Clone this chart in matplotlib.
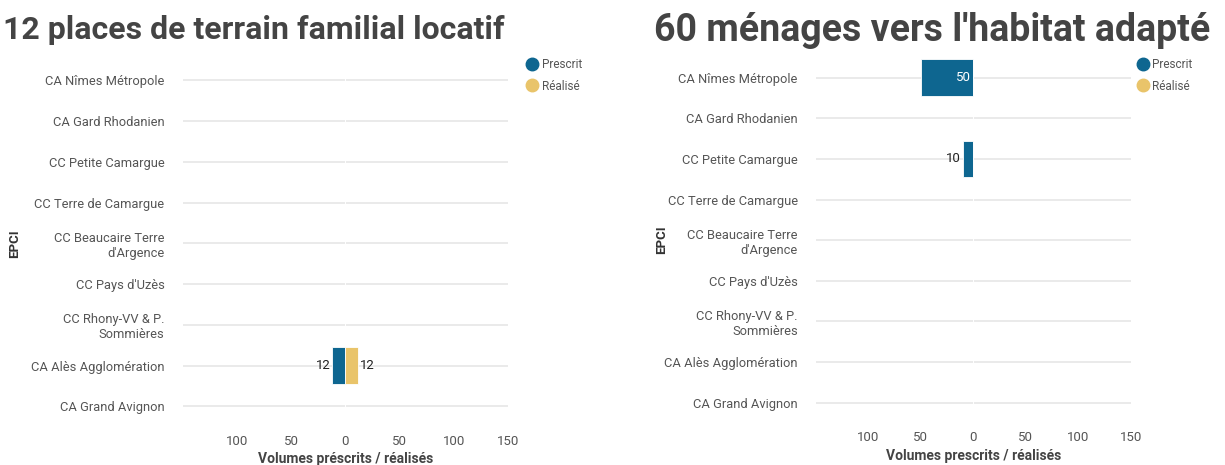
import matplotlib
matplotlib.use("Agg")
import matplotlib.pyplot as plt
from matplotlib.ticker import FixedLocator, FuncFormatter
from matplotlib.lines import Line2D

plt.rcParams["font.family"] = ["Roboto", "DejaVu Sans"]

# data
epci = ["CA Nîmes Métropole", "CA Gard Rhodanien", "CC Petite Camargue",
        "CC Terre de Camargue", "CC Beaucaire Terre\nd'Argence", "CC Pays d'Uzès",
        "CC Rhony-VV & P.\nSommières", "CA Alès Agglomération", "CA Grand Avignon"]
terrain_prescrit = [0, 0, 0, 0, 0, 0, 0, 12, 0]
terrain_realise = [0, 0, 0, 0, 0, 0, 0, 12, 0]
habitat_prescrit = [50, 0, 10, 0, 0, 0, 0, 0, 0]
habitat_realise = [0, 0, 0, 0, 0, 0, 0, 0, 0]
titles = ["12 places de terrain familial locatif", "60 ménages vers l'habitat adapté"]
xlabels = ["Volumes préscrits / réalisés", "Volumes prescrits / réalisés"]
xticks = [-100, -50, 0, 50, 100, 150]

BLUE = "#0e6690"
GOLD = "#e9c46a"
GRID = "#e6e6e6"
TXT = "#555555"

fig = plt.figure(figsize=(12.25, 4.65), dpi=100)
axes = [fig.add_axes([0.149, 0.082, 0.266, 0.789]),
        fig.add_axes([0.666, 0.090, 0.257, 0.787])]
series = [(terrain_prescrit, terrain_realise), (habitat_prescrit, habitat_realise)]
title_x = [0.207, 0.761]
title_size = [23, 27]
leg_x = [0.426, 0.924]
ylab_x = [-0.495, -0.47]

for k, ax in enumerate(axes):
    presc, real = series[k]
    y = list(range(len(epci)))
    ax.set_ylim(len(epci) - 0.5, -0.5)
    ax.set_xlim(-150, 150)
    for yi in y:
        ax.axhline(yi, color=GRID, lw=1.2, zorder=0)
    ax.barh(y, [-v for v in presc], height=0.9, color=BLUE, edgecolor="white", lw=0.6, zorder=2)
    ax.barh(y, real, height=0.9, color=GOLD, edgecolor="white", lw=0.6, zorder=2)
    for yi, v in zip(y, presc):
        if v == 0:
            continue
        if v >= 30:
            ax.text(-2, yi, str(v), ha="right", va="center", color="white", fontsize=9.5, zorder=3)
        else:
            ax.text(-v - 1.5, yi, str(v), ha="right", va="center", color="#222222", fontsize=9.5, zorder=3)
    for yi, v in zip(y, real):
        if v == 0:
            continue
        ax.text(v + 1.5, yi, str(v), ha="left", va="center", color="#222222", fontsize=9.5, zorder=3)

    ax.set_yticks(y)
    ax.set_yticklabels(epci, fontsize=9.3, color=TXT, ha="right", linespacing=1.2)
    ax.xaxis.set_major_locator(FixedLocator(xticks))
    ax.xaxis.set_major_formatter(FuncFormatter(lambda v, p: f"{abs(int(v))}"))
    ax.tick_params(axis="both", length=0, colors=TXT)
    ax.tick_params(axis="y", pad=13)
    ax.tick_params(axis="x", pad=6, labelsize=9.5)
    for s in ax.spines.values():
        s.set_visible(False)
    ax.set_ylabel("EPCI", fontsize=9.5, fontweight="bold", color="#333333")
    ax.yaxis.set_label_coords(ylab_x[k], 0.5)
    ax.set_xlabel(xlabels[k], fontsize=10, fontweight="bold", color="#444444", labelpad=3)

    fig.text(title_x[k], 0.935, titles[k], ha="center", va="center", fontsize=title_size[k],
             fontweight="bold", color="#444444")
    handles = [Line2D([], [], marker="o", ls="", ms=9, color=BLUE, label="Prescrit"),
               Line2D([], [], marker="o", ls="", ms=9, color=GOLD, label="Réalisé")]
    fig.legend(handles=handles, loc="upper left", bbox_to_anchor=(leg_x[k], 0.886),
               frameon=False, fontsize=8.5, labelcolor=TXT, handletextpad=0.3,
               labelspacing=0.75, borderaxespad=0, handlelength=1.0)

fig.savefig("out.png", dpi=100)
